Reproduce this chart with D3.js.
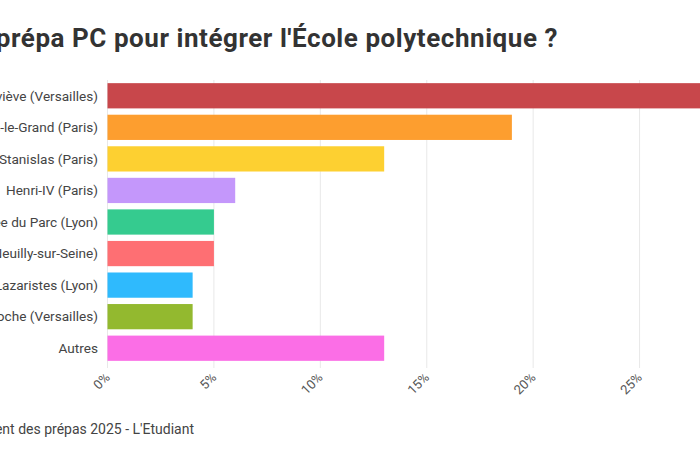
<!DOCTYPE html>
<html><head><meta charset="utf-8">
<script src="https://cdn.jsdelivr.net/npm/d3@7"></script>
<style>body{margin:0;background:#fff;}svg{display:block;font-family:Roboto,"Noto Sans",sans-serif;}</style>
</head><body>
<svg id="c" width="700" height="450"></svg>
<script>
const categories = ["Sainte-Geneviève (Versailles)","Louis-le-Grand (Paris)","Stanislas (Paris)","Henri-IV (Paris)","Lycée du Parc (Lyon)","Pasteur (Neuilly-sur-Seine)","Lazaristes (Lyon)","Hoche (Versailles)","Autres"];
const values = [30,19,13,6,5,5,4,4,13];
const colors = ["#c8474b","#fd9e2f","#fdd031","#c497fb","#35cb8f","#fe6f73","#2fbafd","#93b92f","#fb6ee6"];
const tickValues = [0,5,10,15,20,25,30];
const title = "Quelle prépa PC pour intégrer l'École polytechnique ?";
const source = "Source : Classement des prépas 2025 - L'Etudiant";

const svg = d3.select("#c");
const x = d3.scaleLinear().domain([0,30]).range([107.5,746]);
const y = d3.scaleBand().domain(categories).range([80,364]).paddingInner(0.2).paddingOuter(0.1);

svg.append("g").selectAll("line").data(tickValues).join("line")
  .attr("x1",d=>x(d)).attr("x2",d=>x(d)).attr("y1",80).attr("y2",368)
  .attr("stroke","#e8e8e8").attr("stroke-width",1);

svg.append("g").selectAll("rect").data(values).join("rect")
  .attr("x",x(0)).attr("y",(d,i)=>y(categories[i]))
  .attr("width",d=>x(d)-x(0)).attr("height",y.bandwidth())
  .attr("fill",(d,i)=>colors[i]);

svg.append("g").selectAll("text").data(categories).join("text")
  .attr("x",98).attr("y",d=>y(d)+y.bandwidth()/2).attr("dy","0.35em")
  .attr("text-anchor","end").attr("font-size",13.6).attr("fill","#444").text(d=>d);

const ax = svg.append("g").attr("transform","translate(0,368)")
  .call(d3.axisBottom(x).tickValues(tickValues).tickFormat(d=>d+"%").tickSize(0));
ax.select(".domain").remove();
ax.selectAll("text").attr("font-size",13).attr("fill","#555").attr("font-family","Roboto,sans-serif")
  .attr("text-anchor","end").attr("transform","translate(0,7) rotate(-45)").attr("dy","0.35em").attr("y",0).attr("x",0)
  .each(function(d){ d3.select(this.parentNode).attr("transform",`translate(${x(d)},0)`); });

svg.append("text").attr("x",558).attr("y",47).attr("text-anchor","end")
  .attr("font-size",26).attr("letter-spacing",0.55).attr("font-weight","bold").attr("fill","#333").text(title);
svg.append("text").attr("x",194).attr("y",434).attr("text-anchor","end")
  .attr("font-size",14).attr("fill","#444").text(source);
</script>
</body></html>
